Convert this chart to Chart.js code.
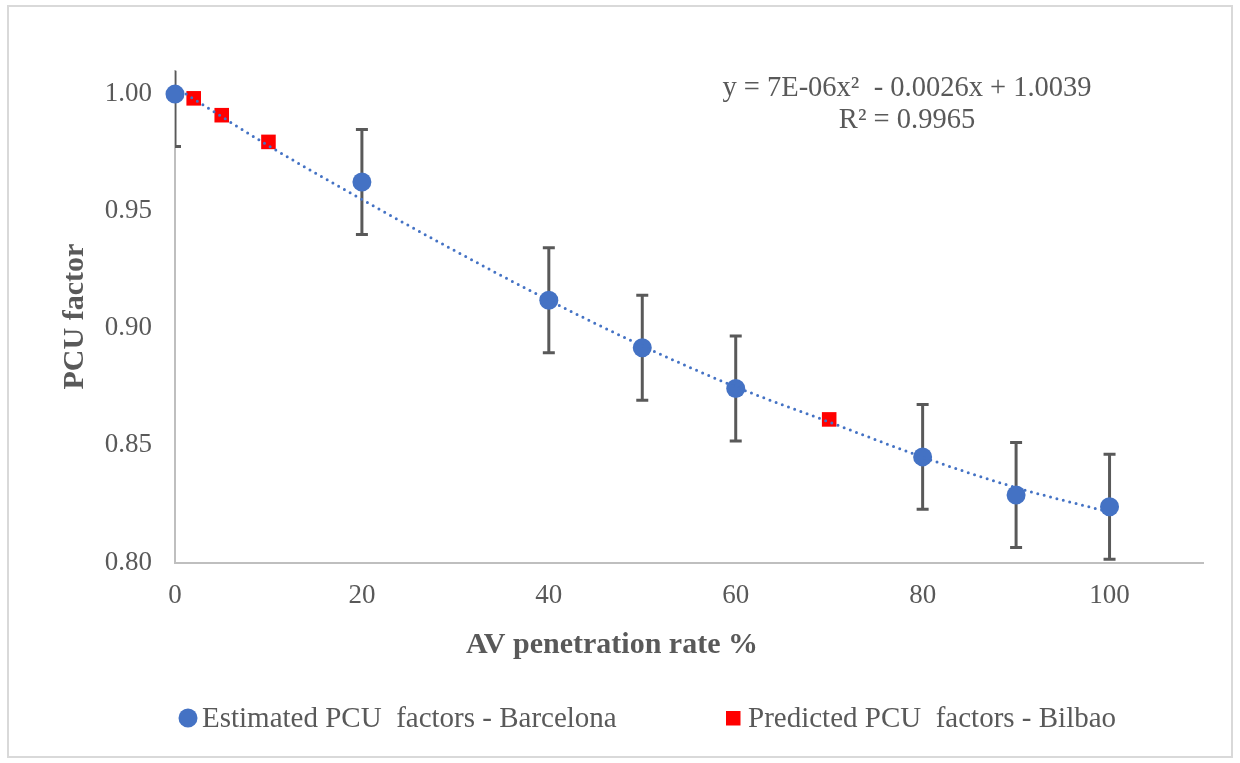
<!DOCTYPE html>
<html>
<head>
<meta charset="utf-8">
<script src="https://cdn.jsdelivr.net/npm/chart.js@4/dist/chart.umd.min.js"></script>
<style>
  html, body { margin: 0; padding: 0; background: #ffffff; }
  #wrap { position: absolute; left: 0; top: 0; width: 1240px; height: 763px; }
</style>
</head>
<body>
<div id="wrap"><canvas id="pcu-chart" width="1240" height="763"></canvas></div>
<script>
// Estimated PCU factors - Barcelona (with error bars)
const penetrationRates = [0, 20, 40, 50, 60, 80, 90, 100];
const pcuBarcelona = [1.000, 0.9625, 0.9120, 0.8917, 0.8743, 0.8451, 0.8288, 0.8238];
const pcuError = [0.0224, 0.0224, 0.0224, 0.0224, 0.0224, 0.0224, 0.0224, 0.0224];

// Predicted PCU factors - Bilbao
const bilbaoRates = [2, 5, 10, 70];
const pcuBilbao = [0.9982, 0.9910, 0.9796, 0.8611];

// Polynomial trendline
const trendRates = [0, 10, 20, 30, 40, 50, 60, 70, 80, 90, 100];
const trendPcu = [1.003, 0.978, 0.955, 0.933, 0.912, 0.8925, 0.875, 0.860, 0.845, 0.832, 0.8215];

const xTicks = [0, 20, 40, 60, 80, 100];
const yTicks = [0.80, 0.85, 0.90, 0.95, 1.00];

const equationLines = ['y = 7E-06x\u00B2  - 0.0026x + 1.0039', 'R\u00B2 = 0.9965'];

const serif = "'Liberation Serif', 'Times New Roman', serif";
const textGrey = '#595959';
const blue = '#4472C4';
const red = '#FF0000';

const toPoints = (xs, ys) => xs.map((x, i) => ({ x, y: ys[i] }));

// Frame, error bars, x title, equation and legend
const decorPlugin = {
    id: 'decor',
    beforeDraw(chart) {
        const ctx = chart.ctx;
        ctx.save();
        ctx.fillStyle = '#ffffff';
        ctx.fillRect(0, 0, chart.width, chart.height);
        ctx.strokeStyle = '#d9d9d9';
        ctx.lineWidth = 2;
        ctx.strokeRect(8, 6, 1224, 751);
        ctx.restore();
    },
    beforeDatasetsDraw(chart) {
        const { ctx, chartArea, scales } = chart;
        ctx.save();
        ctx.beginPath();
        ctx.rect(chartArea.left, chartArea.top, chartArea.right - chartArea.left, chartArea.bottom - chartArea.top);
        ctx.clip();
        ctx.strokeStyle = textGrey;
        ctx.lineWidth = 3;
        penetrationRates.forEach((rate, i) => {
            const px = scales.x.getPixelForValue(rate);
            const top = scales.y.getPixelForValue(pcuBarcelona[i] + pcuError[i]);
            const bottom = scales.y.getPixelForValue(pcuBarcelona[i] - pcuError[i]);
            ctx.beginPath();
            ctx.moveTo(px, top);
            ctx.lineTo(px, bottom);
            ctx.moveTo(px - 6, top);
            ctx.lineTo(px + 6, top);
            ctx.moveTo(px - 6, bottom);
            ctx.lineTo(px + 6, bottom);
            ctx.stroke();
        });
        ctx.restore();
    },
    afterDraw(chart) {
        const ctx = chart.ctx;
        ctx.save();
        ctx.fillStyle = textGrey;
        ctx.textBaseline = 'alphabetic';

        // x axis title
        ctx.font = `bold 30px ${serif}`;
        ctx.textAlign = 'center';
        ctx.fillText('AV penetration rate %', 612, 653);

        // trendline equation
        ctx.font = `28.5px ${serif}`;
        ctx.fillText(equationLines[0], 907, 96);
        ctx.fillText(equationLines[1], 907, 128);

        // legend
        const [ , barcelona, bilbao] = chart.data.datasets;
        ctx.textAlign = 'left';
        ctx.fillStyle = barcelona.backgroundColor;
        ctx.beginPath();
        ctx.arc(188, 718, 9.5, 0, Math.PI * 2);
        ctx.fill();
        ctx.fillStyle = bilbao.backgroundColor;
        ctx.fillRect(726, 711, 14.5, 14.5);
        ctx.font = `29px ${serif}`;
        ctx.fillStyle = textGrey;
        ctx.fillText(barcelona.label, 202, 727);
        ctx.fillText(bilbao.label, 748, 727);
        ctx.restore();
    }
};

const ctx = document.getElementById('pcu-chart').getContext('2d');
new Chart(ctx, {
    type: 'scatter',
    data: {
        datasets: [
            {
                label: 'Poly. trend',
                type: 'line',
                data: toPoints(trendRates, trendPcu),
                borderColor: blue,
                borderWidth: 3,
                borderDash: [0, 6.6],
                borderCapStyle: 'round',
                cubicInterpolationMode: 'monotone',
                pointRadius: 0,
                fill: false,
                clip: false,
                order: 0,
            },
            {
                label: 'Estimated PCU  factors - Barcelona',
                data: toPoints(penetrationRates, pcuBarcelona),
                backgroundColor: blue,
                borderColor: blue,
                borderWidth: 0,
                pointRadius: 9.5,
                clip: false,
                order: 1,
            },
            {
                label: 'Predicted PCU  factors - Bilbao',
                data: toPoints(bilbaoRates, pcuBilbao),
                backgroundColor: red,
                borderColor: red,
                borderWidth: 0,
                pointStyle: 'rect',
                pointRadius: 10.3,
                clip: false,
                order: 2,
            },
        ],
    },
    options: {
        responsive: false,
        animation: false,
        layout: { padding: { left: 40, right: 37, top: 70.7, bottom: 80.5 } },
        plugins: {
            legend: { display: false },
            tooltip: { enabled: false },
        },
        scales: {
            x: {
                type: 'linear',
                min: 0,
                max: 110,
                afterBuildTicks: (scale) => { scale.ticks = xTicks.map((v) => ({ value: v })); },
                afterFit: (scale) => { scale.height = 120; },
                grid: { display: false, drawTicks: false },
                border: { display: true, color: '#bfbfbf', width: 2 },
                ticks: { color: textGrey, padding: 17, font: { family: serif, size: 27 } },
            },
            y: {
                type: 'linear',
                min: 0.80,
                max: 1.01,
                afterBuildTicks: (scale) => { scale.ticks = yTicks.map((v) => ({ value: v })); },
                afterFit: (scale) => { scale.width = 135; },
                grid: { display: false, drawTicks: false },
                border: { display: true, color: '#bfbfbf', width: 2 },
                ticks: {
                    color: textGrey,
                    padding: 23,
                    font: { family: serif, size: 27 },
                    callback: (value) => value.toFixed(2),
                },
                title: {
                    display: true,
                    text: 'PCU factor',
                    color: textGrey,
                    padding: { top: 17, bottom: 0 },
                    font: { family: serif, size: 30, weight: 'bold' },
                },
            },
        },
    },
    plugins: [decorPlugin],
});
</script>
</body>
</html>
